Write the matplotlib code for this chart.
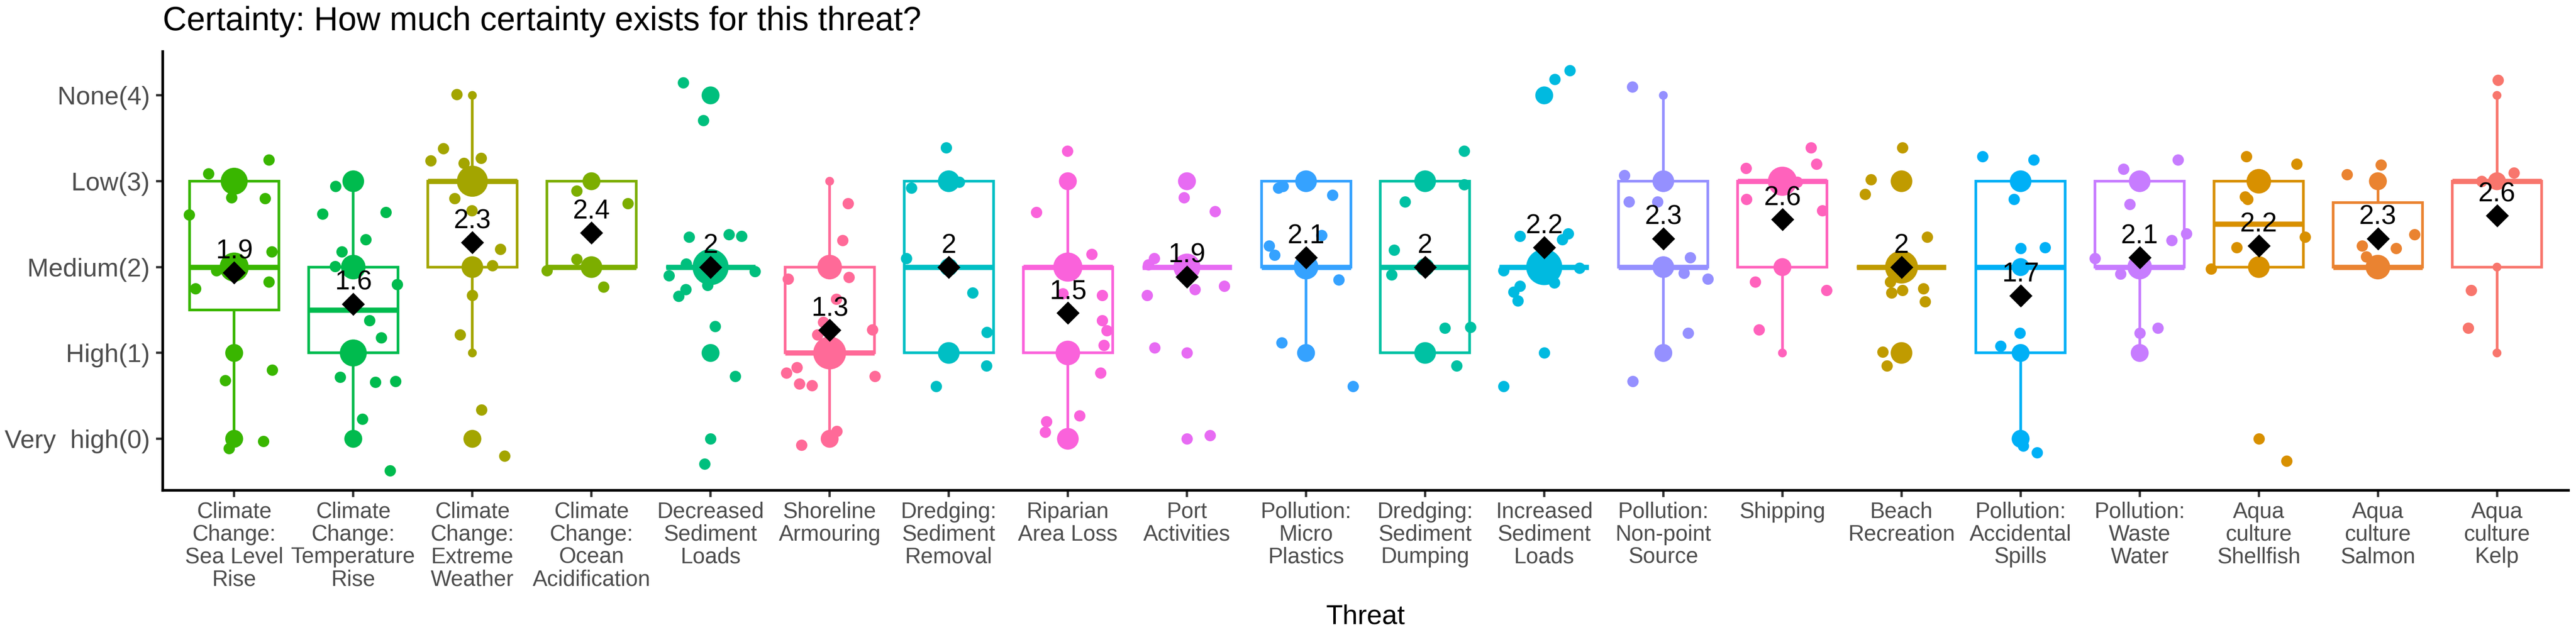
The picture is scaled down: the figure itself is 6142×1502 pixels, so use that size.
import numpy as np
import matplotlib
matplotlib.use('Agg')
import matplotlib.pyplot as plt

plt.rcParams['font.family'] = ['Liberation Sans', 'DejaVu Sans']

# threats in plotting order
tick_labels = [
    'Climate\nChange:\nSea Level\nRise',
    'Climate\nChange:\nTemperature\nRise',
    'Climate\nChange:\nExtreme\nWeather',
    'Climate\nChange:\nOcean\nAcidification',
    'Decreased\nSediment\nLoads',
    'Shoreline\nArmouring',
    'Dredging:\nSediment\nRemoval',
    'Riparian\nArea Loss',
    'Port\nActivities',
    'Pollution:\nMicro\nPlastics',
    'Dredging:\nSediment\nDumping',
    'Increased\nSediment\nLoads',
    'Pollution:\nNon-point\nSource',
    'Shipping',
    'Beach\nRecreation',
    'Pollution:\nAccidental\nSpills',
    'Pollution:\nWaste\nWater',
    'Aqua\nculture\nShellfish',
    'Aqua\nculture\nSalmon',
    'Aqua\nculture\nKelp',
]

levels = [0, 1, 2, 3, 4]
level_labels = ['Very  high(0)', 'High(1)', 'Medium(2)', 'Low(3)', 'None(4)']

# number of answers per certainty level (0..4) for each threat
counts = [
    [2, 2, 6, 5, 0],
    [2, 5, 4, 3, 0],
    [2, 1, 3, 7, 1],
    [0, 0, 3, 2, 0],
    [1, 2, 10, 0, 2],
    [2, 8, 4, 1, 0],
    [0, 3, 2, 3, 0],
    [3, 4, 6, 2, 0],
    [1, 1, 5, 2, 0],
    [0, 2, 4, 3, 0],
    [0, 3, 2, 3, 0],
    [0, 1, 10, 0, 2],
    [0, 2, 3, 3, 1],
    [0, 1, 2, 6, 0],
    [0, 3, 8, 3, 0],
    [2, 2, 2, 3, 0],
    [0, 2, 4, 3, 0],
    [1, 0, 3, 4, 0],
    [0, 0, 4, 2, 0],
    [0, 1, 1, 2, 1],
]

# jittered answers: horizontal offset and value
jitter_dx = [
    [-0.217, 0.29, -0.023, 0.261, -0.378, 0.315, -0.15, 0.29, -0.324, -0.077, 0.32, 0.245, -0.044],
    [-0.15, -0.257, 0.274, 0.106, -0.097, -0.154, 0.37, 0.135, 0.236, -0.112, 0.187, 0.355, 0.077, 0.309],
    [-0.13, -0.243, -0.35, -0.07, 0.073, -0.15, -0.006, 0.234, 0.168, 0.0, -0.104, 0.075, 0.27],
    [-0.125, 0.307, -0.125, -0.373, 0.1],
    [-0.228, -0.06, -0.18, 0.153, 0.259, -0.205, -0.35, -0.21, -0.27, -0.025, 0.374, 0.037, 0.207, -0.05],
    [0.156, 0.108, -0.35, 0.162, 0.056, -0.052, -0.104, 0.36, -0.365, -0.274, -0.253, -0.149, 0.378, 0.06, -0.235],
    [-0.023, -0.313, 0.087, -0.355, 0.2, 0.32, 0.315, -0.106],
    [-0.004, -0.264, 0.199, -0.044, 0.29, 0.29, 0.328, 0.303, 0.274, 0.10, -0.18, -0.19],
    [-0.025, 0.235, -0.276, -0.324, 0.066, 0.313, -0.334, -0.27, 0.193],
    [-0.232, -0.193, 0.222, 0.131, -0.309, -0.264, 0.276, -0.203, 0.396],
    [0.327, 0.327, -0.17, -0.26, -0.28, 0.164, 0.38, 0.265],
    [0.214, 0.089, -0.205, 0.201, 0.153, -0.34, -0.205, -0.257, -0.22, 0.083, 0.297, -0.34],
    [-0.26, -0.328, -0.29, -0.05, 0.226, 0.174, 0.375, 0.207, -0.257],
    [0.239, 0.284, -0.305, 0.124, -0.301, 0.336, -0.23, 0.371, -0.195],
    [0.008, -0.255, -0.307, 0.214, -0.095, -0.085, 0.006, 0.185, 0.199, -0.159, -0.124],
    [-0.32, 0.11, -0.054, 0.0, 0.205, -0.008, -0.17, 0.023, 0.139],
    [-0.137, 0.32, -0.085, 0.393, 0.268, -0.375, -0.162, 0.0, 0.152],
    [-0.106, -0.116, -0.093, 0.317, -0.185, -0.40, 0.389, 0.234],
    [-0.259, 0.026, 0.309, -0.134, 0.154, -0.099],
    [0.01, 0.141, -0.13, -0.216, -0.243],
]
jitter_y = [
    [3.09, 3.25, 2.81, 2.80, 2.61, 2.18, 1.96, 1.83, 1.75, 0.68, 0.80, -0.03, -0.11],
    [2.94, 2.62, 2.64, 2.32, 2.18, 2.01, 1.80, 1.38, 1.18, 0.72, 0.66, 0.67, 0.23, -0.37],
    [4.01, 3.38, 3.24, 3.21, 3.27, 2.80, 2.66, 2.21, 2.02, 1.67, 1.21, 0.34, -0.20],
    [2.89, 2.74, 2.09, 1.96, 1.77],
    [4.15, 3.71, 2.35, 2.38, 2.36, 2.04, 1.90, 1.74, 1.66, 1.79, 1.95, 1.31, 0.73, -0.29],
    [2.74, 2.31, 1.86, 1.88, 1.63, 1.36, 1.21, 1.27, 0.77, 0.83, 0.64, 0.62, 0.73, 0.09, -0.07],
    [3.39, 2.92, 2.99, 2.10, 1.70, 1.24, 0.85, 0.61],
    [3.35, 2.64, 2.15, 1.69, 1.67, 1.38, 1.26, 1.09, 0.77, 0.27, 0.20, 0.08],
    [2.81, 2.65, 2.10, 2.03, 1.74, 1.78, 1.67, 1.06, 0.04],
    [2.92, 2.94, 2.84, 2.37, 2.25, 2.14, 1.85, 1.12, 0.61],
    [3.35, 2.96, 2.76, 2.20, 1.91, 1.29, 1.30, 0.85],
    [4.29, 4.19, 2.36, 2.39, 2.32, 1.96, 1.78, 1.71, 1.61, 1.82, 1.99, 0.61],
    [4.10, 3.07, 2.76, 2.76, 2.11, 1.93, 1.86, 1.23, 0.67],
    [3.39, 3.20, 3.15, 2.99, 2.79, 2.66, 1.83, 1.73, 1.27],
    [3.39, 3.02, 2.85, 2.35, 1.83, 1.70, 1.73, 1.75, 1.60, 1.01, 0.85],
    [3.29, 3.25, 2.79, 2.22, 2.23, 1.23, 1.08, -0.08, -0.16],
    [3.14, 3.25, 2.73, 2.39, 2.31, 2.10, 1.92, 1.23, 1.29],
    [3.29, 2.82, 2.79, 3.20, 2.23, 1.98, 2.35, -0.26],
    [3.08, 3.19, 2.38, 2.25, 2.22, 2.12],
    [4.18, 3.10, 3.00, 1.73, 1.29],
]

colors = [
    '#39B600', '#00BB4E', '#A3A500', '#7CAE00', '#00BF7D', '#FF6A98', '#00BFC4',
    '#FA62DB', '#E76BF3', '#35A2FF', '#00C1A3', '#00BAE0', '#9590FF', '#FF62BC',
    '#C09B00', '#00B0F6', '#C77CFF', '#D89000', '#EA8331', '#F8766D',
]

W, H, DPI = 6142, 1502, 200
px = 72 / DPI  # points per pixel

fig = plt.figure(figsize=(W / DPI, H / DPI), dpi=DPI)
ax = fig.add_axes([388 / W, 1 - 1169 / H, (6124 - 388) / W, (1169 - 123) / H])

nmax = max(max(c) for c in counts)
jit_size = (27 * px) ** 2

for i, col in enumerate(colors):
    vals = np.repeat(levels, counts[i])
    ax.boxplot([vals], positions=[i], widths=0.75, patch_artist=True, showcaps=False,
               boxprops=dict(facecolor='white', edgecolor=col, linewidth=2.3),
               medianprops=dict(color=col, linewidth=4.5, solid_capstyle='butt'),
               whiskerprops=dict(color=col, linewidth=2.3, solid_capstyle='butt'),
               flierprops=dict(marker='o', markerfacecolor=col, markeredgecolor='none',
                               markersize=27 * px),
               zorder=2)

    # count dots, area grows with the number of answers
    n = np.array(counts[i])
    lv = np.array(levels)[n > 0]
    n = n[n > 0]
    diam = (21 + 65 * np.sqrt((n - 1) / (nmax - 1))) * px
    ax.scatter(np.full(len(lv), i), lv, s=diam ** 2, color=col, linewidths=0, zorder=3)

    # jittered answers
    ax.scatter(i + np.array(jitter_dx[i]), jitter_y[i], s=jit_size, color=col,
               linewidths=0, zorder=4)

    # mean marker and label
    m = vals.mean()
    ax.scatter([i], [m], marker='D', s=196, color='black', linewidths=0, zorder=5)
    ax.text(i, m + 0.165, f'{round(m, 1):g}', ha='center', va='baseline',
            fontsize=23, color='black', zorder=6)

ax.set_xlim(-0.6, 19.6)
ax.set_ylim(-0.6, 4.51)

ax.set_xticks(range(len(tick_labels)))
ax.set_xticklabels(tick_labels, linespacing=1.1)
ax.set_yticks(levels)
ax.set_yticklabels(level_labels)
ax.tick_params(axis='x', labelsize=19, labelcolor='#4D4D4D', length=5.6, width=2.0,
               color='#333333', pad=4)
ax.tick_params(axis='y', labelsize=22, labelcolor='#4D4D4D', length=5.6, width=2.0,
               color='#333333', pad=5.5)

for side in ['top', 'right']:
    ax.spines[side].set_visible(False)
for side in ['left', 'bottom']:
    ax.spines[side].set_linewidth(2.3)
    ax.spines[side].set_color('black')

ax.set_xlabel('Threat', fontsize=23.5, color='black')
ax.xaxis.set_label_coords(0.5, -(1488 - 1169) / (1169 - 123))
ax.xaxis.label.set_va('baseline')

fig.text(388 / W, 1 - 72 / H, 'Certainty: How much certainty exists for this threat?',
         fontsize=28.5, ha='left', va='baseline', color='black')

fig.savefig('out.png', dpi=DPI, facecolor='white')
